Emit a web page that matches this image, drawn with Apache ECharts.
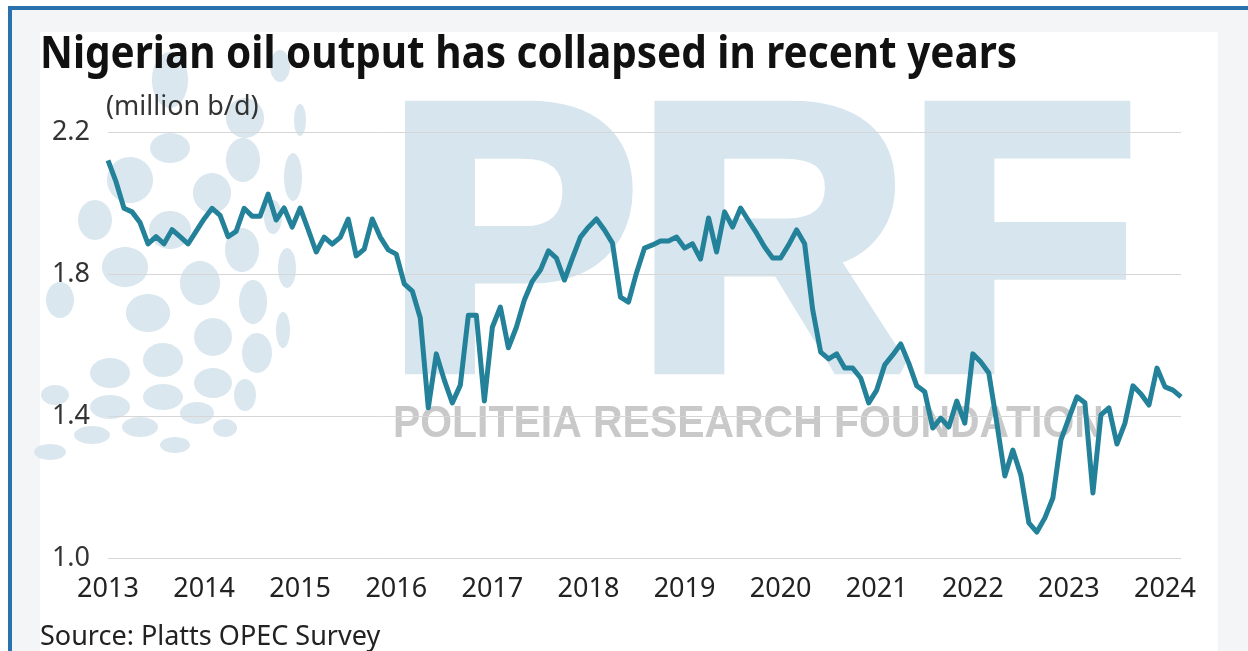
<!DOCTYPE html>
<html>
<head>
<meta charset="utf-8">
<script src="https://cdn.jsdelivr.net/npm/echarts@6/dist/echarts.min.js"></script>
<style>
  html, body { margin: 0; padding: 0; background: #fff; overflow: hidden; }
  .frame { position: absolute; left: 8px; top: 6px; width: 1300px; height: 700px;
           border: 4px solid #2a72ad; background: #f4f5f7; }
  .panel { position: absolute; left: 40px; top: 32px; width: 1178px; height: 700px; background: #fff; }
  #main { position: absolute; left: 0; top: 0; width: 1248px; height: 651px; }
</style>
</head>
<body>
<div class="frame"></div>
<div class="panel"></div>
<div id="main"></div>
<script>
var myChart = echarts.init(document.getElementById('main'));

// monthly output, million b/d, Jan 2013 .. Mar 2024
const output2013 = [2.12, 2.06, 1.985, 1.975, 1.945, 1.885, 1.905, 1.885, 1.925, 1.905, 1.885, 1.92];
const output2014 = [1.955, 1.985, 1.965, 1.905, 1.92, 1.985, 1.963, 1.963, 2.025, 1.952, 1.986, 1.932];
const output2015 = [1.986, 1.925, 1.862, 1.904, 1.884, 1.903, 1.955, 1.851, 1.87, 1.955, 1.904, 1.868];
const output2016 = [1.856, 1.772, 1.752, 1.676, 1.423, 1.575, 1.501, 1.437, 1.487, 1.684, 1.684, 1.442];
const output2017 = [1.65, 1.707, 1.592, 1.65, 1.727, 1.78, 1.811, 1.865, 1.845, 1.783, 1.845, 1.904];
const output2018 = [1.932, 1.955, 1.924, 1.887, 1.735, 1.721, 1.803, 1.873, 1.882, 1.893, 1.893, 1.904];
const output2019 = [1.873, 1.885, 1.842, 1.958, 1.862, 1.975, 1.932, 1.986, 1.95, 1.915, 1.876, 1.845];
const output2020 = [1.845, 1.882, 1.924, 1.885, 1.70, 1.58, 1.561, 1.575, 1.535, 1.535, 1.507, 1.437];
const output2021 = [1.473, 1.544, 1.572, 1.603, 1.549, 1.485, 1.468, 1.366, 1.394, 1.369, 1.442, 1.38];
const output2022 = [1.575, 1.552, 1.521, 1.38, 1.231, 1.304, 1.234, 1.099, 1.073, 1.113, 1.169, 1.332];
const output2023 = [1.394, 1.454, 1.437, 1.183, 1.403, 1.423, 1.321, 1.38, 1.485, 1.462, 1.431, 1.535];
const output2024 = [1.482, 1.473, 1.454];

const years = ['2013', '2014', '2015', '2016', '2017', '2018', '2019', '2020', '2021', '2022', '2023', '2024'];
const yTicks = [1.0, 1.4, 1.8, 2.2];

const values = [].concat(output2013, output2014, output2015, output2016, output2017, output2018,
    output2019, output2020, output2021, output2022, output2023, output2024);

// month categories, e.g. "2013-01"
const months = [];
values.forEach(function (v, i) {
    const y = years[Math.floor(i / 12)];
    const m = (i % 12) + 1;
    months.push(y + '-' + (m < 10 ? '0' + m : m));
});

// watermark globe dots [cx, cy, rx, ry]
const globeDots = [
    [170, 148, 20, 15], [130, 180, 23, 23], [243, 160, 17, 22], [212, 193, 19, 20], [293, 177, 9, 24],
    [95, 220, 17, 20], [170, 230, 21, 19], [242, 250, 17, 22], [273, 217, 9, 17], [125, 267, 23, 20],
    [200, 283, 20, 22], [287, 268, 9, 20], [148, 313, 22, 19], [253, 302, 14, 22], [213, 337, 19, 19],
    [283, 330, 7, 18], [163, 360, 20, 17], [110, 373, 20, 15], [257, 353, 15, 20], [213, 383, 19, 15],
    [163, 397, 20, 13], [110, 407, 20, 12], [245, 395, 11, 16], [197, 413, 17, 11], [140, 427, 18, 10],
    [92, 435, 18, 9], [50, 452, 16, 8], [170, 80, 18, 28], [245, 118, 19, 20], [280, 66, 10, 16],
    [60, 300, 14, 18], [55, 395, 14, 10], [300, 120, 6, 16], [225, 428, 12, 9], [175, 445, 15, 8]
];

const dotColor = '#d6e4ed';
const graphics = globeDots.map(function (d) {
    return {
        type: 'ellipse', z: -10, silent: true,
        shape: {cx: d[0], cy: d[1], rx: d[2], ry: d[3]},
        style: {fill: dotColor, opacity: 0.9}
    };
});
graphics.push({
    type: 'text', z: -10, silent: true, x: 388, y: 76,
    style: {
        text: 'PRF', font: 'bold 374px "Liberation Sans", Arial, sans-serif',
        fill: '#d7e5ee', stroke: '#d7e5ee', lineWidth: 16, lineJoin: 'miter'
    }
});
graphics.push({
    type: 'text', z: -9, silent: true, x: 393, y: 403, scaleX: 0.93,
    style: {
        text: 'POLITEIA RESEARCH FOUNDATION',
        font: 'bold 44px "Liberation Sans", Arial, sans-serif',
        fill: '#c9c9c9', shadowColor: 'rgba(170,170,170,0.9)', shadowBlur: 5
    }
});
graphics.push({
    type: 'text', x: 40, y: 33, scaleX: 0.92, silent: true,
    style: {text: 'Nigerian oil output has collapsed in recent years',
        font: 'bold 44px "Noto Sans", sans-serif', fill: '#111'}
});
graphics.push({
    type: 'text', x: 106, y: 94, silent: true,
    style: {text: '(million b/d)', font: '27px "Noto Sans", sans-serif', fill: '#333'}
});
graphics.push({
    type: 'text', x: 40, y: 624, silent: true,
    style: {text: 'Source: Platts OPEC Survey', font: '27px "Noto Sans", sans-serif', fill: '#222'}
});

let option = {
    animation: false,
    backgroundColor: 'transparent',
    graphic: graphics,
    grid: {left: 108, right: 67, top: 132, bottom: 93},
    xAxis: {
        type: 'category',
        data: months,
        boundaryGap: false,
        axisLine: {show: false},
        axisTick: {show: false},
        axisLabel: {
            interval: function (idx) { return idx % 12 === 0; },
            formatter: function (v) { return v.slice(0, 4); },
            fontFamily: 'Noto Sans', fontSize: 27, color: '#222', margin: 18
        }
    },
    yAxis: {
        type: 'value',
        min: yTicks[0], max: yTicks[yTicks.length - 1], interval: 0.4,
        axisLabel: {
            formatter: function (v) { return v.toFixed(1); },
            fontFamily: 'Noto Sans', fontSize: 27, color: '#333', margin: 18,
            padding: [10, 0, 0, 0]
        },
        splitLine: {lineStyle: {color: '#d6d6d6', width: 1}}
    },
    series: [
        {
            type: 'line',
            data: values,
            showSymbol: false,
            lineStyle: {color: '#23829a', width: 5, join: 'round'},
            z: 5
        }
    ]
};

myChart.setOption(option);
</script>
</body>
</html>
